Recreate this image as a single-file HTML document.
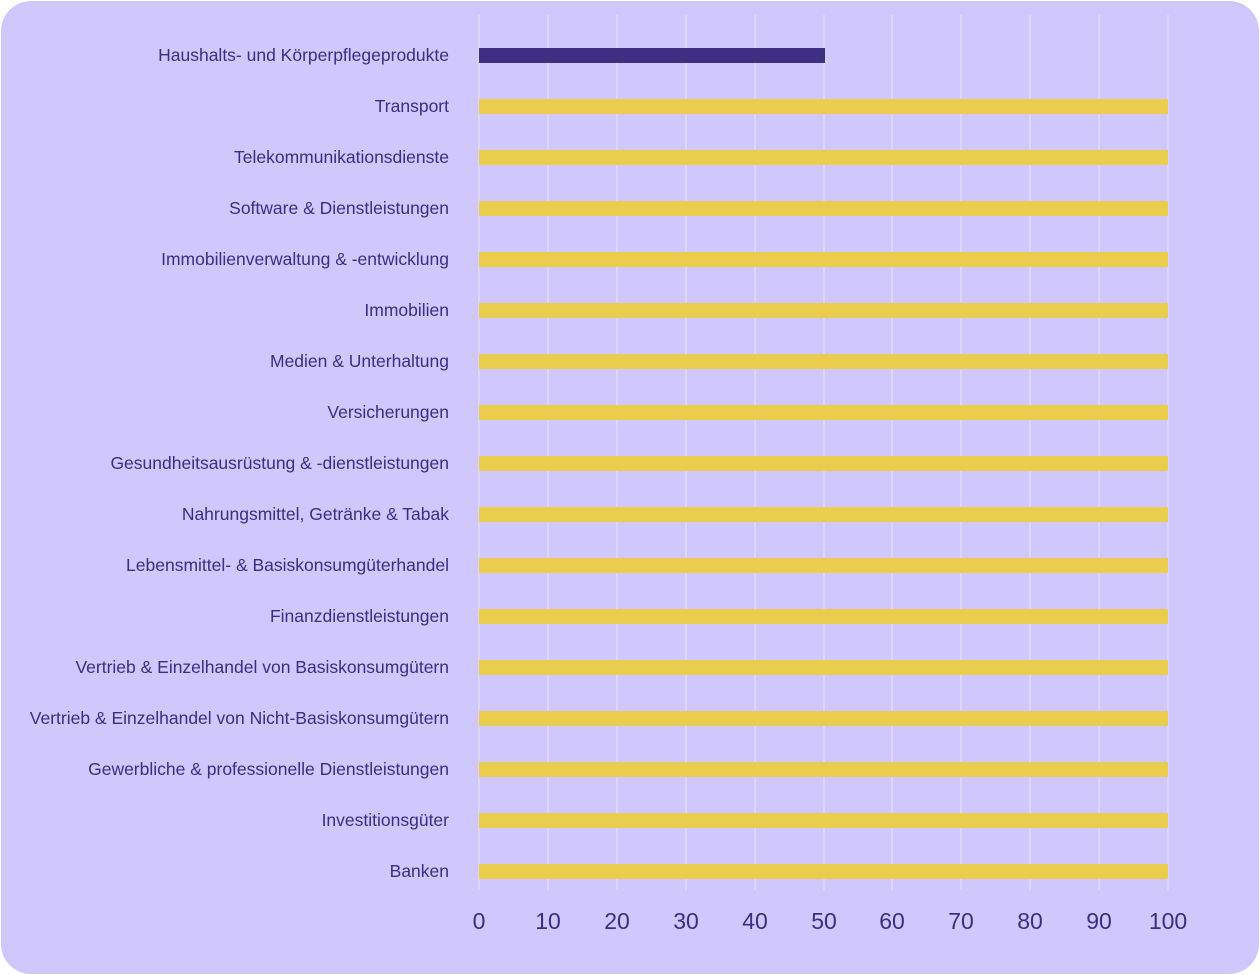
<!DOCTYPE html>
<html><head><meta charset="utf-8"><style>
html,body{margin:0;padding:0;background:#fff;}
svg{display:block;}
text{font-family:"Liberation Sans",sans-serif;fill:#3b2d85;}
</style></head><body>
<svg width="1260" height="975" xmlns="http://www.w3.org/2000/svg">
<rect x="1" y="1" width="1258" height="973" rx="30" fill="#d0c8fc"/>
<g stroke="#e4defd" stroke-width="1.2">
<line x1="479" y1="15" x2="479" y2="890"/><line x1="548" y1="15" x2="548" y2="890"/><line x1="617" y1="15" x2="617" y2="890"/><line x1="686" y1="15" x2="686" y2="890"/><line x1="755" y1="15" x2="755" y2="890"/><line x1="824" y1="15" x2="824" y2="890"/><line x1="892" y1="15" x2="892" y2="890"/><line x1="961" y1="15" x2="961" y2="890"/><line x1="1030" y1="15" x2="1030" y2="890"/><line x1="1099" y1="15" x2="1099" y2="890"/><line x1="1168" y1="15" x2="1168" y2="890"/>
</g>
<rect x="479" y="48" width="346" height="15" fill="#3f2f82"/>
<g fill="#ebcd4d">
<rect x="479" y="99" width="689" height="15"/><rect x="479" y="150" width="689" height="15"/><rect x="479" y="201" width="689" height="15"/><rect x="479" y="252" width="689" height="15"/><rect x="479" y="303" width="689" height="15"/><rect x="479" y="354" width="689" height="15"/><rect x="479" y="405" width="689" height="15"/><rect x="479" y="456" width="689" height="15"/><rect x="479" y="507" width="689" height="15"/><rect x="479" y="558" width="689" height="15"/><rect x="479" y="609" width="689" height="15"/><rect x="479" y="660" width="689" height="15"/><rect x="479" y="711" width="689" height="15"/><rect x="479" y="762" width="689" height="15"/><rect x="479" y="813" width="689" height="15"/><rect x="479" y="864" width="689" height="15"/>
</g>
<g text-anchor="end" font-size="17.5">
<text x="449" y="61">Haushalts- und Körperpflegeprodukte</text>
<text x="449" y="112">Transport</text>
<text x="449" y="163">Telekommunikationsdienste</text>
<text x="449" y="214">Software &amp; Dienstleistungen</text>
<text x="449" y="265">Immobilienverwaltung &amp; -entwicklung</text>
<text x="449" y="316">Immobilien</text>
<text x="449" y="367">Medien &amp; Unterhaltung</text>
<text x="449" y="418">Versicherungen</text>
<text x="449" y="469">Gesundheitsausrüstung &amp; -dienstleistungen</text>
<text x="449" y="520">Nahrungsmittel, Getränke &amp; Tabak</text>
<text x="449" y="571">Lebensmittel- &amp; Basiskonsumgüterhandel</text>
<text x="449" y="622">Finanzdienstleistungen</text>
<text x="449" y="673">Vertrieb &amp; Einzelhandel von Basiskonsumgütern</text>
<text x="449" y="724">Vertrieb &amp; Einzelhandel von Nicht-Basiskonsumgütern</text>
<text x="449" y="775">Gewerbliche &amp; professionelle Dienstleistungen</text>
<text x="449" y="826">Investitionsgüter</text>
<text x="449" y="877">Banken</text>
</g>
<g text-anchor="middle" font-size="23">
<text x="479" y="929">0</text><text x="548" y="929">10</text><text x="617" y="929">20</text><text x="686" y="929">30</text><text x="755" y="929">40</text><text x="824" y="929">50</text><text x="892" y="929">60</text><text x="961" y="929">70</text><text x="1030" y="929">80</text><text x="1099" y="929">90</text><text x="1168" y="929">100</text>
</g>
</svg>
</body></html>
